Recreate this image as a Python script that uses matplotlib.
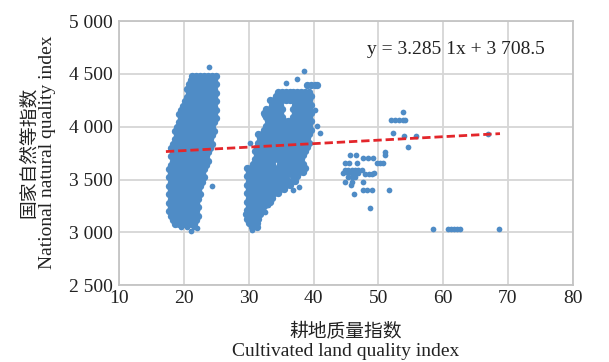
import matplotlib
matplotlib.use('Agg')
import matplotlib.pyplot as plt

# 글꼴: 라틴은 세리프, 한자는 CJK로 대체
plt.rcParams['font.family'] = ['Liberation Serif', 'Noto Sans CJK SC']

# --- 데이터 ---
# 왼쪽 덩어리 (x 17~25): 행별 y 와 그 행의 x 값들
LEFT_ROW_Y = [4480, 4440, 4400, 4360, 4320, 4280, 4240, 4200, 4160, 4120,
              4080, 4040, 4000, 3960, 3920, 3880, 3840, 3800, 3760, 3720,
              3680, 3640, 3600, 3560, 3520, 3480, 3440, 3400, 3360, 3320,
              3280, 3240, 3200, 3160, 3120, 3080]
LEFT_ROW_X = [
    [21.3, 21.9, 22.5, 23.1, 23.7, 24.3, 24.9],
    [21.0, 21.6, 22.2, 22.8, 23.4, 24.0, 24.6],
    [20.7, 21.3, 21.9, 22.5, 23.1, 23.7, 24.3, 24.9],
    [20.4, 21.0, 21.6, 22.2, 22.8, 23.4, 24.0, 24.6],
    [20.7, 21.3, 21.9, 22.5, 23.1, 23.7, 24.3, 24.9],
    [20.4, 21.0, 21.6, 22.2, 22.8, 23.4, 24.0, 24.6],
    [20.1, 20.7, 21.3, 21.9, 22.5, 23.1, 23.7, 24.3, 24.9],
    [19.8, 20.4, 21.0, 21.6, 22.2, 22.8, 23.4, 24.0, 24.6],
    [19.5, 20.1, 20.7, 21.3, 21.9, 22.5, 23.1, 23.7, 24.3, 24.9],
    [19.2, 19.8, 20.4, 21.0, 21.6, 22.2, 22.8, 23.4, 24.0, 24.6],
    [19.5, 20.1, 20.7, 21.3, 21.9, 22.5, 23.1, 23.7, 24.3, 24.9],
    [19.2, 19.8, 20.4, 21.0, 21.6, 22.2, 22.8, 23.4, 24.0, 24.6],
    [18.9, 19.5, 20.1, 20.7, 21.3, 21.9, 22.5, 23.1, 23.7, 24.3],
    [18.6, 19.2, 19.8, 20.4, 21.0, 21.6, 22.2, 22.8, 23.4, 24.0, 24.6],
    [18.9, 19.5, 20.1, 20.7, 21.3, 21.9, 22.5, 23.1, 23.7, 24.3],
    [18.6, 19.2, 19.8, 20.4, 21.0, 21.6, 22.2, 22.8, 23.4, 24.0],
    [18.3, 18.9, 19.5, 20.1, 20.7, 21.3, 21.9, 22.5, 23.1, 23.7, 24.3],
    [18.0, 18.6, 19.2, 19.8, 20.4, 21.0, 21.6, 22.2, 22.8, 23.4, 24.0],
    [18.3, 18.9, 19.5, 20.1, 20.7, 21.3, 21.9, 22.5, 23.1, 23.7],
    [18.0, 18.6, 19.2, 19.8, 20.4, 21.0, 21.6, 22.2, 22.8, 23.4],
    [18.3, 18.9, 19.5, 20.1, 20.7, 21.3, 21.9, 22.5, 23.1, 23.7],
    [18.0, 18.6, 19.2, 19.8, 20.4, 21.0, 21.6, 22.2, 22.8, 23.4],
    [17.7, 18.3, 18.9, 19.5, 20.1, 20.7, 21.3, 21.9, 22.5, 23.1],
    [18.0, 18.6, 19.2, 19.8, 20.4, 21.0, 21.6, 22.2, 22.8],
    [17.7, 18.3, 18.9, 19.5, 20.1, 20.7, 21.3, 21.9, 22.5, 23.1],
    [18.0, 18.6, 19.2, 19.8, 20.4, 21.0, 21.6, 22.2, 22.8],
    [17.7, 18.3, 18.9, 19.5, 20.1, 20.7, 21.3, 21.9, 22.5],
    [18.0, 18.6, 19.2, 19.8, 20.4, 21.0, 21.6, 22.2],
    [17.7, 18.3, 18.9, 19.5, 20.1, 20.7, 21.3, 21.9, 22.5],
    [18.0, 18.6, 19.2, 19.8, 20.4, 21.0, 21.6, 22.2],
    [17.7, 18.3, 18.9, 19.5, 20.1, 20.7, 21.3, 21.9],
    [18.0, 18.6, 19.2, 19.8, 20.4, 21.0, 21.6, 22.2],
    [17.7, 18.3, 18.9, 19.5, 20.1, 20.7, 21.3, 21.9],
    [18.0, 18.6, 19.2, 19.8, 20.4, 21.0, 21.6, 22.2],
    [18.3, 18.9, 19.5, 20.1, 20.7, 21.3, 21.9],
    [18.6, 19.2, 19.8, 20.4, 21.0, 21.6],
]

# 가운데 덩어리 (x 29~41)
MID_ROW_Y = [4390, 4330, 4290, 4250, 4210, 4170, 4130, 4090, 4050, 4010,
             3970, 3930, 3890, 3850, 3810, 3770, 3730, 3690, 3650, 3610,
             3570, 3530, 3490, 3450, 3410, 3370, 3330, 3290, 3250, 3210,
             3170, 3130, 3090, 3050]
MID_ROW_X = [
    [39.0, 39.6, 40.2, 40.6],
    [34.5, 35.1, 35.7, 36.3, 36.9, 37.5, 38.1, 38.7, 39.3],
    [34.2, 34.8, 35.4, 36.0, 36.6, 37.2, 37.8, 38.4, 39.0, 39.6],
    [33.3, 33.9, 34.5, 35.1, 35.7, 36.3, 36.9, 37.5, 38.1, 38.7, 39.3],
    [33.6, 34.2, 34.8, 37.2, 37.8, 38.4, 39.0, 39.6],
    [32.7, 33.3, 33.9, 34.5, 35.1, 36.9, 37.5, 38.1, 38.7, 39.3],
    [32.4, 33.0, 33.6, 34.2, 34.8, 37.2, 37.8, 38.4, 39.0, 39.6],
    [32.7, 33.3, 33.9, 34.5, 35.1, 36.9, 37.5, 38.1, 38.7, 39.3],
    [33.0, 33.6, 34.2, 34.8, 35.4, 36.0, 36.6, 37.2, 37.8, 38.4, 39.0, 39.6],
    [32.7, 33.3, 33.9, 34.5, 35.1, 35.7, 36.3, 36.9, 37.5, 38.1, 38.7, 39.3],
    [32.4, 33.0, 33.6, 34.2, 34.8, 35.4, 36.0, 36.6, 37.2, 37.8, 38.4, 39.0, 39.6],
    [31.5, 32.1, 32.7, 33.3, 33.9, 34.5, 35.1, 35.7, 36.3, 36.9, 37.5, 38.1, 38.7, 39.3],
    [31.8, 32.4, 33.0, 33.6, 34.2, 34.8, 35.4, 36.0, 36.6, 37.2, 37.8, 38.4, 39.0],
    [31.5, 32.1, 32.7, 33.3, 33.9, 34.5, 35.1, 35.7, 36.3, 36.9, 37.5, 38.1, 38.7, 39.3],
    [31.2, 31.8, 32.4, 33.0, 33.6, 34.2, 34.8, 35.4, 36.0, 36.6, 37.2, 37.8, 38.4, 39.0],
    [30.9, 31.5, 32.1, 32.7, 33.3, 33.9, 34.5, 35.1, 35.7, 36.3, 36.9, 37.5, 38.1, 38.7],
    [31.2, 31.8, 32.4, 33.0, 33.6, 34.2, 34.8, 35.4, 36.0, 36.6, 37.2, 37.8, 38.4],
    [30.9, 31.5, 32.1, 32.7, 33.3, 33.9, 34.5, 35.1, 35.7, 36.3, 36.9, 37.5, 38.1],
    [30.6, 31.2, 31.8, 32.4, 33.0, 33.6, 34.8, 35.4, 36.0, 36.6, 37.2, 37.8, 38.4],
    [29.7, 30.3, 30.9, 31.5, 32.1, 32.7, 33.3, 33.9, 34.5, 35.1, 35.7, 36.3, 36.9, 37.5, 38.1, 38.7],
    [30.0, 30.6, 31.2, 31.8, 32.4, 33.0, 33.6, 34.2, 34.8, 35.4, 36.0, 36.6, 37.2, 37.8, 38.4],
    [29.7, 30.3, 30.9, 31.5, 32.1, 32.7, 33.3, 33.9, 34.5, 35.1, 35.7, 36.9, 37.5],
    [30.0, 30.6, 31.2, 31.8, 32.4, 33.0, 33.6, 34.2, 34.8, 35.4, 36.0, 36.6, 37.2],
    [29.7, 30.3, 30.9, 31.5, 32.1, 32.7, 33.3, 33.9, 34.5, 35.1, 35.7, 36.3],
    [30.0, 30.6, 31.2, 31.8, 32.4, 33.0, 33.6, 34.2, 34.8, 35.4],
    [29.7, 30.3, 30.9, 31.5, 32.1, 32.7, 33.3, 33.9, 34.5],
    [30.0, 30.6, 31.2, 31.8, 32.4, 33.0, 33.6],
    [29.7, 30.3, 30.9, 31.5, 32.1, 32.7, 33.3],
    [30.0, 30.6, 31.2, 31.8, 32.4],
    [29.7, 30.3, 30.9, 31.5, 32.1],
    [29.6, 30.0, 30.6, 31.2, 31.8],
    [29.7, 30.3, 30.9, 31.5],
    [30.0, 30.6, 31.2],
    [30.5, 31.2],
]

# 흩어진 점들 (덩어리 바깥 점 + 오른쪽 군집)
SPARSE_X = [23.9, 24.3, 19.5, 20.4, 21.1, 21.6, 22.0,
            38.6, 37.4, 35.7, 40.2, 40.6, 41.0, 32.4, 30.2, 37.8, 36.9, 33.0, 32.5, 30.5,
            53.8, 52.0, 52.6, 53.2, 53.8, 54.2, 52.2, 54.0, 55.9, 54.6, 67.0,
            51.0, 51.0, 45.6, 46.6, 47.6, 48.4, 49.2,
            44.9, 45.5, 46.7, 49.8, 50.3, 50.8,
            44.9, 45.4, 45.9, 46.4, 46.9, 47.5,
            44.5, 45.4, 45.9, 46.4, 46.9,
            45.4, 45.9, 46.4,
            48.0, 48.5, 49.0, 49.3,
            44.9, 46.0, 47.6, 45.8,
            47.7, 48.3, 49.0, 51.6, 46.3, 48.7,
            58.4, 60.7, 61.2, 61.7, 62.2, 62.6, 68.7]
SPARSE_Y = [4562, 3441, 3050, 3056, 3016, 3050, 3040,
            4530, 4452, 4411, 4159, 4010, 3940, 4112, 3847, 3434, 3400, 3261, 3198, 3025,
            4137, 4062, 4062, 4062, 4062, 4062, 3945, 3916, 3916, 3806, 3929,
            3760, 3735, 3730, 3730, 3700, 3700, 3700,
            3655, 3655, 3655, 3655, 3655, 3655,
            3592, 3592, 3592, 3592, 3592, 3592,
            3561, 3561, 3561, 3561, 3561,
            3529, 3529, 3529,
            3551, 3551, 3555, 3561,
            3480, 3480, 3480, 3447,
            3405, 3405, 3405, 3400, 3365, 3230,
            3030, 3030, 3030, 3030, 3030, 3030, 3030]

# 추세선 y = 3.2851x + 3708.5
TREND_X = [17.2, 68.8]
SLOPE = 3.2851
INTERCEPT = 3708.5
EQUATION = 'y = 3.285 1x + 3 708.5'

X_TICKS = [10, 20, 30, 40, 50, 60, 70, 80]
Y_TICKS = [2500, 3000, 3500, 4000, 4500, 5000]
Y_TICK_LABELS = ['2 500', '3 000', '3 500', '4 000', '4 500', '5 000']

BLUE = '#4f8cc6'
RED = '#e3262b'
GRID = '#d6d6d6'

# 덩어리 점 좌표 펼치기
bx, by = [], []
for y, row in zip(LEFT_ROW_Y, LEFT_ROW_X):
    bx += row
    by += [y] * len(row)
for y, row in zip(MID_ROW_Y, MID_ROW_X):
    bx += row
    by += [y] * len(row)

W, H = 609, 362
fig = plt.figure(figsize=(W / 100, H / 100), dpi=100)
ax = fig.add_axes([119.3 / W, 1 - 285.3 / H, 453.2 / W, 264.3 / H])

# 빽빽한 덩어리는 점이 서로 겹쳐 보이도록 조금 크게
ax.scatter(bx, by, s=28, c=BLUE, linewidths=0, zorder=2)
ax.scatter(SPARSE_X, SPARSE_Y, s=17, c=BLUE, linewidths=0, zorder=2)
ax.plot(TREND_X, [SLOPE * x + INTERCEPT for x in TREND_X],
        color=RED, lw=2.0, dashes=(3.0, 1.4), zorder=3)

ax.set_xlim(10, 80)
ax.set_ylim(2500, 5000)
ax.set_xticks(X_TICKS)
ax.set_yticks(Y_TICKS)
ax.set_yticklabels(Y_TICK_LABELS)
ax.tick_params(axis='both', length=0, labelsize=14, colors='#222222')
ax.tick_params(axis='y', pad=4.5)
ax.tick_params(axis='x', pad=3.5)
ax.grid(color=GRID, lw=1.3)
ax.set_axisbelow(True)
for sp in ax.spines.values():
    sp.set_color('#c4c4c4')
    sp.set_linewidth(1.3)

ax.text(48.2, 4726, EQUATION, fontsize=14, ha='left', va='center', color='#222222')

# 축 제목 (두 줄: 중국어 + 영어)
fig.text(29 / W, 1 - 152 / H, '国家自然等指数', rotation=90, fontsize=13.5,
         ha='center', va='center', color='#222222')
fig.text(48 / W, 1 - 152 / H, 'National natural quality index', rotation=90,
         fontsize=14, ha='center', va='center', color='#222222')
fig.text(346 / W, 1 - 332 / H, '耕地质量指数', fontsize=13.5,
         ha='center', va='center', color='#222222')
fig.text(346 / W, 1 - 352 / H, 'Cultivated land quality index', fontsize=14,
         ha='center', va='center', color='#222222')

fig.savefig('out.png', dpi=100)
